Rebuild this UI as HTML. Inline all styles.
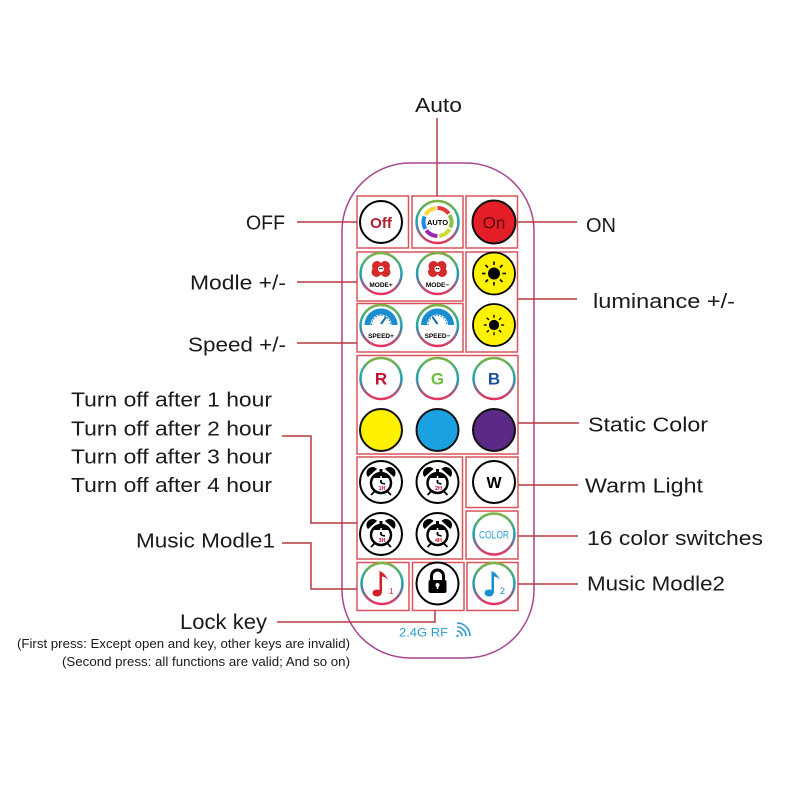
<!DOCTYPE html>
<html><head><meta charset="utf-8"><style>
html,body{margin:0;padding:0;background:#fff;}
svg{display:block;}
.lb{font-family:"Liberation Sans","DejaVu Sans",sans-serif;fill:#1a1a1a;}
</style></head><body>
<svg width="800" height="800" viewBox="0 0 800 800" xmlns="http://www.w3.org/2000/svg">
<defs>
<linearGradient id="rg" x1="0" y1="0" x2="0" y2="1">
<stop offset="0" stop-color="#7cb342"/><stop offset="0.5" stop-color="#1aa3b8"/><stop offset="1" stop-color="#e8335f"/>
</linearGradient>
<g id="sun"><circle r="6" fill="#000"/>
<g stroke="#000" stroke-width="1.6"><line x1="0" y1="-8.5" x2="0" y2="-12"/><line x1="0" y1="8.5" x2="0" y2="12"/><line x1="-8.5" y1="0" x2="-12" y2="0"/><line x1="8.5" y1="0" x2="12" y2="0"/><line x1="6" y1="6" x2="8.5" y2="8.5"/><line x1="-6" y1="6" x2="-8.5" y2="8.5"/><line x1="6" y1="-6" x2="8.5" y2="-8.5"/><line x1="-6" y1="-6" x2="-8.5" y2="-8.5"/></g></g>
<g id="flower"><circle cx="-4" cy="-7" r="5" fill="#d42a2a"/><circle cx="4" cy="-7" r="5" fill="#d42a2a"/><circle cx="-4.5" cy="-1" r="5" fill="#d42a2a"/><circle cx="4.5" cy="-1" r="5" fill="#d42a2a"/><circle cx="0" cy="-4" r="3" fill="#fff"/><circle cx="-1" cy="-4.5" r="0.8" fill="#000"/><circle cx="1" cy="-4.5" r="0.8" fill="#000"/></g>
<g id="gauge"><path d="M -13.5 4 A 13.5 13.5 0 0 1 13.5 4" fill="none" stroke="#1a8fd0" stroke-width="6"/><path d="M -9.5 4 A 9.5 9.5 0 0 1 9.5 4" fill="none" stroke="#1a6fa0" stroke-width="1" stroke-dasharray="1.5 1.5"/></g>
<g id="alarm">
<path d="M -13 -6 A 6 6 0 0 1 -4 -14 Z" fill="#000"/><path d="M 13 -6 A 6 6 0 0 0 4 -14 Z" fill="#000"/>
<rect x="-1.5" y="-14" width="3" height="3" fill="#000"/>
<circle cx="0" cy="0" r="10" fill="#fff" stroke="#000" stroke-width="2.5"/>
<path d="M -8.5 -5 A 10 10 0 0 1 8.5 -5 Z" fill="#000"/>
<line x1="0" y1="0" x2="0" y2="-7" stroke="#fff" stroke-width="1.5"/><line x1="0" y1="0" x2="0" y2="-3" stroke="#000" stroke-width="1.8"/><line x1="0" y1="0" x2="4" y2="1" stroke="#000" stroke-width="1.5"/>
<line x1="-6" y1="8" x2="-10" y2="12" stroke="#000" stroke-width="1.8"/><line x1="6" y1="8" x2="10" y2="12" stroke="#000" stroke-width="1.8"/>
</g>
</defs>

<!-- remote outline -->
<rect x="342" y="163" width="192" height="495" rx="68" ry="68" fill="none" stroke="#a8478f" stroke-width="1.5"/>

<!-- boxes -->
<g fill="none" stroke="#d9545c" stroke-width="1.5">
<rect x="357" y="196" width="51.5" height="52"/>
<rect x="412" y="196" width="51" height="52"/>
<rect x="466" y="196" width="51.5" height="52"/>
<rect x="357" y="252" width="106" height="49"/>
<rect x="357" y="303.5" width="106" height="48.5"/>
<rect x="466" y="252" width="51.5" height="100"/>
<rect x="357" y="355.5" width="161" height="98.5"/>
<rect x="357" y="457" width="105.5" height="102"/>
<rect x="466" y="457" width="52" height="50.5"/>
<rect x="466" y="511" width="52" height="48"/>
<rect x="357" y="562.5" width="52" height="48"/>
<rect x="412.5" y="562.5" width="51.5" height="48"/>
<rect x="467" y="562.5" width="51" height="48"/>
</g>

<!-- connectors -->
<g fill="none" stroke="#b83a44" stroke-width="1.5">
<line x1="437" y1="118" x2="437" y2="196"/>
<line x1="297" y1="222" x2="357" y2="222"/>
<line x1="297" y1="282" x2="357" y2="282"/>
<line x1="297" y1="343" x2="357" y2="343"/>
<polyline points="282,436 311,436 311,523 357,523"/>
<polyline points="282,543 311,543 311,589 357,589"/>
<polyline points="277,622 435,622 435,610.5"/>
<line x1="518" y1="222" x2="577" y2="222"/>
<line x1="518" y1="299" x2="577" y2="299"/>
<line x1="518" y1="423" x2="579" y2="423"/>
<line x1="518" y1="485" x2="578" y2="485"/>
<line x1="518" y1="536" x2="578" y2="536"/>
<line x1="518" y1="584" x2="578" y2="584"/>
</g>

<!-- Row1 -->
<circle cx="381" cy="222" r="21" fill="#fff" stroke="#000" stroke-width="2"/>
<text x="381" y="228" text-anchor="middle" font-family="Liberation Sans,sans-serif" font-size="15" font-weight="bold" fill="#b0202a">Off</text>

<circle cx="437.5" cy="222" r="21" fill="#fff" stroke="url(#rg)" stroke-width="2.5"/>
<g fill="none" stroke-width="4">
<circle cx="437.5" cy="222" r="14" stroke="#e53935" stroke-dasharray="13 75" transform="rotate(-90 437.5 222)"/>
<circle cx="437.5" cy="222" r="14" stroke="#8bc34a" stroke-dasharray="13 75" transform="rotate(-30 437.5 222)"/>
<circle cx="437.5" cy="222" r="14" stroke="#cddc39" stroke-dasharray="13 75" transform="rotate(30 437.5 222)"/>
<circle cx="437.5" cy="222" r="14" stroke="#9c27b0" stroke-dasharray="13 75" transform="rotate(90 437.5 222)"/>
<circle cx="437.5" cy="222" r="14" stroke="#1e88e5" stroke-dasharray="13 75" transform="rotate(150 437.5 222)"/>
<circle cx="437.5" cy="222" r="14" stroke="#fdd835" stroke-dasharray="13 75" transform="rotate(210 437.5 222)"/>
</g>
<text x="437.5" y="225" text-anchor="middle" font-family="Liberation Sans,sans-serif" font-size="7.5" font-weight="bold" fill="#000">AUTO</text>

<circle cx="494" cy="222" r="21.5" fill="#e41e26" stroke="#111" stroke-width="2"/>
<text x="494" y="228.5" text-anchor="middle" font-family="Liberation Sans,sans-serif" font-size="17" fill="#5a0a10">On</text>

<!-- Mode -->
<circle cx="381" cy="273.5" r="20.5" fill="#fff" stroke="url(#rg)" stroke-width="2.5"/>
<use href="#flower" x="381" y="273"/>
<text x="381" y="287" text-anchor="middle" font-family="Liberation Sans,sans-serif" font-size="6.5" font-weight="bold" fill="#000">MODE+</text>
<circle cx="437.5" cy="273.5" r="20.5" fill="#fff" stroke="url(#rg)" stroke-width="2.5"/>
<use href="#flower" x="437.5" y="273"/>
<text x="437.5" y="287" text-anchor="middle" font-family="Liberation Sans,sans-serif" font-size="6.5" font-weight="bold" fill="#000">MODE−</text>

<!-- Sun -->
<circle cx="494" cy="273.5" r="21" fill="#fff200" stroke="#000" stroke-width="1.8"/>
<use href="#sun" x="494" y="273.5"/>
<circle cx="494" cy="325" r="21" fill="#fff200" stroke="#000" stroke-width="1.8"/>
<use href="#sun" x="494" y="325" transform="translate(494 325) scale(0.85) translate(-494 -325)"/>

<!-- Speed -->
<circle cx="381" cy="325.5" r="20.5" fill="#fff" stroke="url(#rg)" stroke-width="2.5"/>
<use href="#gauge" x="381" y="321"/>
<line x1="381" y1="324" x2="386" y2="317" stroke="#1a6fa0" stroke-width="2"/>
<text x="381" y="338" text-anchor="middle" font-family="Liberation Sans,sans-serif" font-size="6.5" font-weight="bold" fill="#000">SPEED+</text>
<circle cx="437.5" cy="325.5" r="20.5" fill="#fff" stroke="url(#rg)" stroke-width="2.5"/>
<use href="#gauge" x="437.5" y="321"/>
<line x1="437.5" y1="324" x2="432.5" y2="317" stroke="#1a6fa0" stroke-width="2"/>
<text x="437.5" y="338" text-anchor="middle" font-family="Liberation Sans,sans-serif" font-size="6.5" font-weight="bold" fill="#000">SPEED−</text>

<!-- RGB -->
<g font-family="Liberation Sans,sans-serif" font-size="17" font-weight="bold" text-anchor="middle">
<circle cx="381" cy="378.5" r="20.5" fill="#fff" stroke="url(#rg)" stroke-width="2.5"/>
<text x="381" y="384.5" fill="#c8102e">R</text>
<circle cx="437.5" cy="378.5" r="20.5" fill="#fff" stroke="url(#rg)" stroke-width="2.5"/>
<text x="437.5" y="384.5" fill="#6abf45">G</text>
<circle cx="494" cy="378.5" r="20.5" fill="#fff" stroke="url(#rg)" stroke-width="2.5"/>
<text x="494" y="384.5" fill="#1f4e9c">B</text>
</g>
<circle cx="381" cy="430" r="21" fill="#fff200" stroke="#111" stroke-width="2"/>
<circle cx="437.5" cy="430" r="21" fill="#1ba1e2" stroke="#111" stroke-width="2"/>
<circle cx="494" cy="430" r="21" fill="#5b2a86" stroke="#111" stroke-width="2"/>

<!-- Alarms -->
<g font-family="Liberation Sans,sans-serif" font-size="5.5" font-weight="bold" fill="#c8102e" text-anchor="middle">
<circle cx="381" cy="482" r="21" fill="#fff" stroke="#000" stroke-width="2"/>
<use href="#alarm" x="381" y="483"/><text x="382" y="490">1H</text>
<circle cx="437.5" cy="482" r="21" fill="#fff" stroke="#000" stroke-width="2"/>
<use href="#alarm" x="437.5" y="483"/><text x="438.5" y="490">2H</text>
<circle cx="381" cy="534" r="21" fill="#fff" stroke="#000" stroke-width="2"/>
<use href="#alarm" x="381" y="535"/><text x="382" y="542">3H</text>
<circle cx="437.5" cy="534" r="21" fill="#fff" stroke="#000" stroke-width="2"/>
<use href="#alarm" x="437.5" y="535"/><text x="438.5" y="542">4H</text>
</g>

<!-- W / COLOR -->
<circle cx="494" cy="482" r="21" fill="#fff" stroke="#000" stroke-width="2"/>
<text x="494" y="488" text-anchor="middle" font-family="Liberation Sans,sans-serif" font-size="16" font-weight="bold" fill="#000">W</text>
<circle cx="494" cy="534" r="20.5" fill="#fff" stroke="url(#rg)" stroke-width="2.5"/>
<text x="494" y="538.5" text-anchor="middle" font-family="Liberation Sans,sans-serif" font-size="11" fill="#2a9fd0" textLength="30" lengthAdjust="spacingAndGlyphs">COLOR</text>

<!-- Music / Lock -->
<circle cx="382" cy="583.5" r="20.5" fill="#fff" stroke="url(#rg)" stroke-width="2.5"/>
<path d="M 379.5 593 L 379.5 571 Q 385 573 388 580 Q 385 576.5 382 576.5 L 382 593 Z" fill="#d0202a"/>
<ellipse cx="377" cy="593" rx="4.5" ry="3.5" fill="#d0202a"/>
<text x="389" y="594" font-family="Liberation Sans,sans-serif" font-size="8" fill="#d0202a">1</text>

<circle cx="437.5" cy="583.5" r="21" fill="#fff" stroke="#000" stroke-width="2"/>
<path d="M 431.5 581 L 431.5 576 A 6 6 0 0 1 443.5 576 L 443.5 581" fill="none" stroke="#000" stroke-width="3"/>
<rect x="428.5" y="580" width="18" height="13" rx="2" fill="#000"/>
<circle cx="437.5" cy="585" r="2" fill="#fff"/><rect x="436.7" y="585" width="1.6" height="4" fill="#fff"/>

<circle cx="494" cy="583.5" r="20.5" fill="#fff" stroke="url(#rg)" stroke-width="2.5"/>
<path d="M 491.5 593 L 491.5 571 Q 497 573 500 580 Q 497 576.5 494 576.5 L 494 593 Z" fill="#1a8fd0"/>
<ellipse cx="489" cy="593" rx="4.5" ry="3.5" fill="#1a8fd0"/>
<text x="500" y="594" font-family="Liberation Sans,sans-serif" font-size="9" fill="#1a8fd0">2</text>

<!-- RF -->
<text x="399" y="636.5" font-family="Liberation Sans,sans-serif" font-size="12" fill="#2b9bd3" textLength="49" lengthAdjust="spacingAndGlyphs">2.4G RF</text>
<g fill="none" stroke="#2b9bd3" stroke-width="1.6">
<circle cx="457.5" cy="636" r="1.2" fill="#2b9bd3" stroke="none"/>
<path d="M 457 631 A 5 5 0 0 1 462 636"/>
<path d="M 457 627 A 9 9 0 0 1 466 636"/>
<path d="M 457 623 A 13 13 0 0 1 470 636"/>
</g>

<!-- labels -->
<g class="lb" font-size="20">
<text x="415" y="112" textLength="47" lengthAdjust="spacingAndGlyphs">Auto</text>
<text x="246" y="229.5" textLength="39" lengthAdjust="spacingAndGlyphs">OFF</text>
<text x="190" y="289.5" textLength="96" lengthAdjust="spacingAndGlyphs">Modle +/-</text>
<text x="188" y="351.5" textLength="98" lengthAdjust="spacingAndGlyphs">Speed +/-</text>
<text x="71" y="406.5" textLength="201" lengthAdjust="spacingAndGlyphs">Turn off after 1 hour</text>
<text x="71" y="435.5" textLength="201" lengthAdjust="spacingAndGlyphs">Turn off after 2 hour</text>
<text x="71" y="463.5" textLength="201" lengthAdjust="spacingAndGlyphs">Turn off after 3 hour</text>
<text x="71" y="492" textLength="201" lengthAdjust="spacingAndGlyphs">Turn off after 4 hour</text>
<text x="136" y="547.5" textLength="139" lengthAdjust="spacingAndGlyphs">Music Modle1</text>
<text x="180" y="629" font-size="21" textLength="87" lengthAdjust="spacingAndGlyphs">Lock key</text>
<text x="586" y="232" textLength="30" lengthAdjust="spacingAndGlyphs">ON</text>
<text x="593" y="308" textLength="142" lengthAdjust="spacingAndGlyphs">luminance +/-</text>
<text x="588" y="431.5" textLength="120" lengthAdjust="spacingAndGlyphs">Static Color</text>
<text x="585" y="492.5" textLength="118" lengthAdjust="spacingAndGlyphs">Warm Light</text>
<text x="587" y="545" textLength="176" lengthAdjust="spacingAndGlyphs">16 color switches</text>
<text x="587" y="590.5" textLength="138" lengthAdjust="spacingAndGlyphs">Music Modle2</text>
</g>
<g class="lb" font-size="13">
<text x="17" y="648" textLength="333" lengthAdjust="spacingAndGlyphs">(First press: Except open and key, other keys are invalid)</text>
<text x="62" y="666" textLength="288" lengthAdjust="spacingAndGlyphs">(Second press: all functions are valid; And so on)</text>
</g>
</svg>
</body></html>
